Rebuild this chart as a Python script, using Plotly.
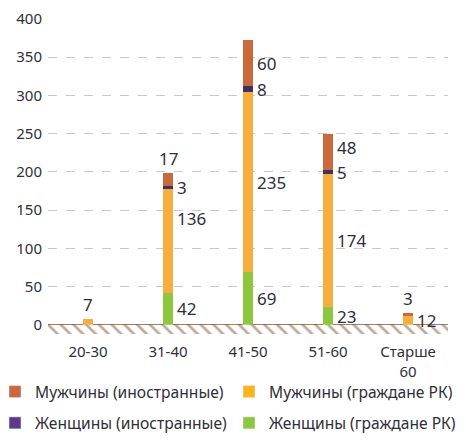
import plotly.graph_objects as go

# age groups
categories = ["20-30", "31-40", "41-50", "51-60", "Старше<br>60"]

# stacked from bottom to top
women_citizens = [0, 42, 69, 23, 0]
men_citizens = [7, 136, 235, 174, 12]
women_foreign = [0, 3, 8, 5, 0]
men_foreign = [0, 17, 60, 48, 3]

y_ticks = [0, 50, 100, 150, 200, 250, 300, 350, 400]

# name, values, bar colour, legend colour, legend box, rank
series = [
    ("Женщины (граждане РК)", women_citizens, "#8dc63f", "#8dc63f", "legend2", 4),
    ("Мужчины (граждане РК)", men_citizens, "#f7ae3f", "#fbb41e", "legend2", 2),
    ("Женщины (иностранные)", women_foreign, "#3f3164", "#5b3b8c", "legend", 3),
    ("Мужчины (иностранные)", men_foreign, "#c9693b", "#c9693b", "legend", 1),
]

# labels that sit above the bar instead of to the right
label_above = {("Мужчины (граждане РК)", 0), ("Мужчины (иностранные)", 1),
               ("Мужчины (иностранные)", 4)}
label_nudge = {("Мужчины (граждане РК)", 1): 22, ("Мужчины (иностранные)", 3): 5}

FONT = "Noto Sans"
TEXT = "#2f2f38"
BROWN = "#7a5435"

fig = go.Figure()
xs = list(range(len(categories)))
base = [0] * len(categories)
annotations = []

for name, vals, color, lcolor, leg, rank in series:
    fig.add_trace(go.Bar(
        x=xs, y=vals, name=name, width=0.125,
        marker=dict(color=color, line=dict(width=0)),
        showlegend=False,
    ))
    fig.add_trace(go.Bar(
        x=[None], y=[None], name=name, legendgroup=name,
        marker=dict(color=lcolor), legend=leg, legendrank=rank,
    ))
    for i, v in enumerate(vals):
        if v == 0:
            continue
        top = base[i] + v
        if (name, i) in label_above:
            annotations.append(dict(x=i, y=top, text=str(v), showarrow=False,
                                    xanchor="center", yanchor="bottom", yshift=1,
                                    font=dict(size=17, color=TEXT, family=FONT)))
        else:
            annotations.append(dict(x=i, y=base[i] + v / 2, text=str(v), showarrow=False,
                                    xanchor="left", yanchor="middle", xshift=7,
                                    yshift=label_nudge.get((name, i), 0),
                                    font=dict(size=17, color=TEXT, family=FONT)))
        base[i] = top

# hatched ground strip under the baseline
fig.add_trace(go.Scatter(
    x=[-0.5, len(categories) - 0.5], y=[-12, -12], mode="lines",
    line=dict(width=0), fill="tozeroy", fillcolor="rgba(0,0,0,0)",
    fillpattern=dict(shape="\\", fgcolor=BROWN, bgcolor="white", size=9, solidity=0.3),
    showlegend=False, hoverinfo="skip",
))

# page body has an 8px margin, so the figure is drawn 8px in from the corner
legend_font = dict(size=15.6, color=TEXT, family=FONT)
fig.update_layout(
    width=466, height=443,
    barmode="stack",
    margin=dict(l=40, r=26, t=11, b=117, autoexpand=False),
    paper_bgcolor="white", plot_bgcolor="white",
    font=dict(family=FONT, color=TEXT, size=15),
    annotations=annotations,
    legend=dict(x=-0.1325, xanchor="left", y=-0.13, yanchor="top",
                font=legend_font, bgcolor="rgba(0,0,0,0)",
                traceorder="grouped", tracegroupgap=8),
    legend2=dict(x=0.4525, xanchor="left", y=-0.13, yanchor="top",
                 font=legend_font, bgcolor="rgba(0,0,0,0)",
                 traceorder="grouped", tracegroupgap=8),
    xaxis=dict(tickmode="array", tickvals=xs, ticktext=categories,
               range=[-0.5, len(categories) - 0.5], showgrid=False, zeroline=False,
               showline=False, ticks="outside", ticklen=4, tickcolor="rgba(0,0,0,0)",
               tickfont=dict(size=15, color=TEXT, family=FONT), fixedrange=True),
    yaxis=dict(range=[-12, 400], tickmode="array", tickvals=y_ticks,
               showgrid=True, gridcolor="#c9c9c9", griddash="dash", gridwidth=1,
               zeroline=True, zerolinecolor=BROWN, zerolinewidth=2,
               ticks="outside", ticklen=2, tickcolor="rgba(0,0,0,0)",
               ticklabeloverflow="allow",
               tickfont=dict(size=15, color=TEXT, family=FONT), fixedrange=True),
)

fig.write_html("out.html")
